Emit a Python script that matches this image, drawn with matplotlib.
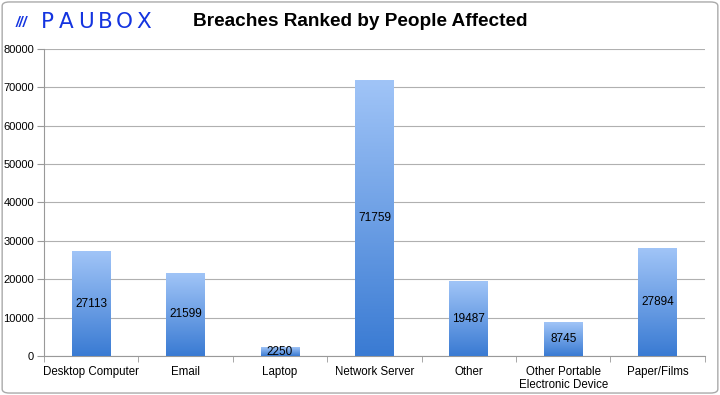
import matplotlib
matplotlib.use("Agg")
import matplotlib.pyplot as plt
from matplotlib.colors import LinearSegmentedColormap
from matplotlib.patches import FancyBboxPatch
import numpy as np

categories = ["Desktop Computer", "Email", "Laptop", "Network Server", "Other",
              "Other Portable\nElectronic Device", "Paper/Films"]
people_affected = [27113, 21599, 2250, 71759, 19487, 8745, 27894]
y_ticks = [0, 10000, 20000, 30000, 40000, 50000, 60000, 70000, 80000]

plt.rcParams["font.family"] = ["Liberation Sans", "DejaVu Sans"]

fig = plt.figure(figsize=(7.2, 3.95), dpi=100)
ax = fig.add_axes([0.061, 0.099, 0.918, 0.777])

grad = LinearSegmentedColormap.from_list("bar", ["#3a7bd3", "#a0c4f7"])
width = 0.41
x = np.arange(len(categories))
for xi, val in zip(x, people_affected):
    ax.imshow(np.linspace(0, 1, 100).reshape(-1, 1), cmap=grad, origin="lower",
              extent=(xi - width / 2, xi + width / 2, 0, val), aspect="auto", zorder=3)
    ax.text(xi, val / 2, str(val), ha="center", va="center", fontsize=8.5, zorder=4)

ax.set_xlim(-0.5, len(categories) - 0.5)
ax.set_ylim(0, 80000)
ax.set_yticks(y_ticks)
ax.tick_params(axis="y", labelsize=8, length=5, color="#999999", pad=2)
ax.set_xticks(x)
ax.set_xticklabels(categories, fontsize=8.3)
ax.tick_params(axis="x", which="major", length=0, pad=7)
ax.set_xticks(np.arange(-0.5, len(categories), 1), minor=True)
ax.tick_params(axis="x", which="minor", length=4, color="#999999")
ax.grid(axis="y", color="#b0b0b0", linewidth=0.8, zorder=0)
for side in ["top", "right"]:
    ax.spines[side].set_visible(False)
for side in ["left", "bottom"]:
    ax.spines[side].set_color("#999999")

fig.text(0.5, 0.945, "Breaches Ranked by People Affected", ha="center", va="center",
         fontsize=13.7, fontweight="bold")

logo_blue = "#1434e0"
fig.text(0.022, 0.942, "///", ha="left", va="center", fontsize=10, color=logo_blue,
         style="italic", fontweight="bold")
for i, letter in enumerate("PAUBOX"):
    fig.text((47 + i * 19.3) / 720, 0.945, letter, ha="center", va="center",
             fontsize=15.5, color=logo_blue, family="DejaVu Sans")

fig.patches.append(FancyBboxPatch((0.003, 0.005), 0.994, 0.99, boxstyle="round,pad=0,rounding_size=0.01",
                                  transform=fig.transFigure, fill=False, edgecolor="#aaaaaa", linewidth=1))

fig.savefig("out.png", dpi=100)
